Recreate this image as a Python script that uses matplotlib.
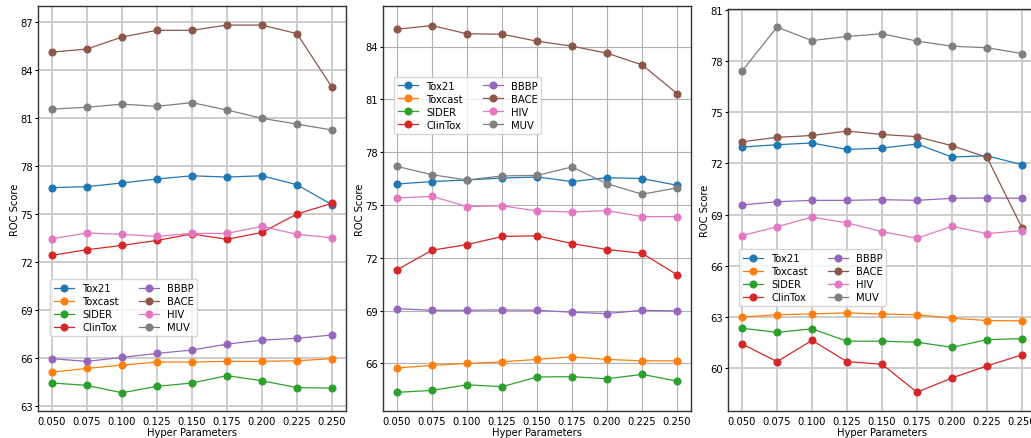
import numpy as np
import matplotlib.pyplot as plt
from matplotlib.ticker import MultipleLocator

# hyper parameter values (x axis)
params = [0.050, 0.075, 0.100, 0.125, 0.150, 0.175, 0.200, 0.225, 0.250]
datasets = ['Tox21', 'Toxcast', 'SIDER', 'ClinTox', 'BBBP', 'BACE', 'HIV', 'MUV']

# panel 1
p1_tox21 = [76.63, 76.69, 76.92, 77.17, 77.37, 77.29, 77.37, 76.81, 75.56]
p1_toxcast = [65.10, 65.33, 65.54, 65.73, 65.73, 65.77, 65.77, 65.81, 65.94]
p1_sider = [64.42, 64.27, 63.81, 64.21, 64.42, 64.88, 64.56, 64.13, 64.10]
p1_clintox = [72.40, 72.75, 73.02, 73.33, 73.73, 73.40, 73.83, 74.98, 75.65]
p1_bbbp = [65.94, 65.77, 66.02, 66.27, 66.48, 66.85, 67.10, 67.21, 67.42]
p1_bace = [85.10, 85.29, 86.04, 86.46, 86.46, 86.79, 86.79, 86.25, 82.90]
p1_hiv = [73.44, 73.79, 73.71, 73.58, 73.77, 73.77, 74.21, 73.71, 73.50]
p1_muv = [81.54, 81.65, 81.85, 81.71, 81.94, 81.48, 80.96, 80.60, 80.23]

# panel 2
p2_tox21 = [76.19, 76.33, 76.42, 76.53, 76.59, 76.33, 76.55, 76.50, 76.12]
p2_toxcast = [65.74, 65.89, 66.00, 66.09, 66.23, 66.38, 66.23, 66.15, 66.15]
p2_sider = [64.36, 64.47, 64.79, 64.68, 65.23, 65.25, 65.13, 65.38, 65.00]
p2_clintox = [71.32, 72.43, 72.75, 73.21, 73.25, 72.81, 72.47, 72.26, 71.04]
p2_bbbp = [69.11, 69.02, 69.02, 69.04, 69.02, 68.91, 68.83, 69.02, 68.98]
p2_bace = [84.98, 85.19, 84.72, 84.70, 84.30, 84.02, 83.62, 82.96, 81.33]
p2_hiv = [75.40, 75.49, 74.91, 74.95, 74.66, 74.60, 74.68, 74.34, 74.34]
p2_muv = [77.19, 76.72, 76.42, 76.65, 76.68, 77.16, 76.21, 75.61, 75.97]

# panel 3
p3_tox21 = [72.96, 73.10, 73.20, 72.82, 72.90, 73.14, 72.38, 72.45, 71.93]
p3_toxcast = [63.00, 63.14, 63.19, 63.25, 63.18, 63.14, 62.94, 62.80, 62.78]
p3_sider = [62.35, 62.11, 62.31, 61.59, 61.59, 61.53, 61.23, 61.68, 61.74]
p3_clintox = [61.43, 60.39, 61.64, 60.39, 60.24, 58.60, 59.44, 60.14, 60.79]
p3_bbbp = [69.57, 69.76, 69.84, 69.84, 69.88, 69.84, 69.96, 69.98, 69.96]
p3_bace = [73.27, 73.53, 73.64, 73.90, 73.70, 73.57, 73.04, 72.36, 68.23]
p3_hiv = [67.78, 68.29, 68.86, 68.52, 68.01, 67.62, 68.32, 67.89, 68.07]
p3_muv = [77.41, 79.99, 79.20, 79.44, 79.60, 79.17, 78.87, 78.78, 78.44]

panels = [
    [p1_tox21, p1_toxcast, p1_sider, p1_clintox, p1_bbbp, p1_bace, p1_hiv, p1_muv],
    [p2_tox21, p2_toxcast, p2_sider, p2_clintox, p2_bbbp, p2_bace, p2_hiv, p2_muv],
    [p3_tox21, p3_toxcast, p3_sider, p3_clintox, p3_bbbp, p3_bace, p3_hiv, p3_muv],
]

W, H = 1031, 439
fig = plt.figure(figsize=(W / 100, H / 100), dpi=100)

# axes boxes in pixels: left, top, right, bottom
boxes = [(38, 7, 346, 412), (383, 7, 691, 412), (728, 10, 1036, 412)]
ylims = [(62.67, 87.98), (63.3, 86.3), (57.5, 81.05)]
legend_anchor = [(0.039, 0.185), (0.036, 0.684), (0.036, 0.261)]
grid_style = [('#cccccc', 1.4), ('#b0b0b0', 0.8), ('#cccccc', 1.4)]
fs = 7.2

for i, series in enumerate(panels):
    l, t, r, b = boxes[i]
    ax = fig.add_axes([l / W, (H - b) / H, (r - l) / W, (b - t) / H])
    for name, vals in zip(datasets, series):
        ax.plot(params, vals, marker='o', markersize=4.8, linewidth=0.9, label=name)
    ax.set_ylim(*ylims[i])
    ax.yaxis.set_major_locator(MultipleLocator(3))
    ax.set_xticks(params)
    ax.set_xticklabels([f'{p:.3f}' for p in params])
    ax.tick_params(labelsize=fs)
    ax.tick_params(axis='x', length=0, pad=3.5)
    ax.tick_params(axis='y', length=2.2, width=0.8, pad=1.5)
    ax.grid(True, color=grid_style[i][0], linewidth=grid_style[i][1])
    ax.set_axisbelow(True)
    for s in ax.spines.values():
        s.set_linewidth(1.0)
        s.set_color('#333333')
    ax.set_xlabel('Hyper Parameters', fontsize=fs, labelpad=1)
    ax.set_ylabel('ROC Score', fontsize=fs, labelpad=0)
    ax.legend(ncol=2, fontsize=fs, loc='lower left', bbox_to_anchor=legend_anchor[i],
              borderaxespad=0, handlelength=2.0, columnspacing=2.0, labelspacing=0.3)

fig.savefig('out.png', dpi=100)
